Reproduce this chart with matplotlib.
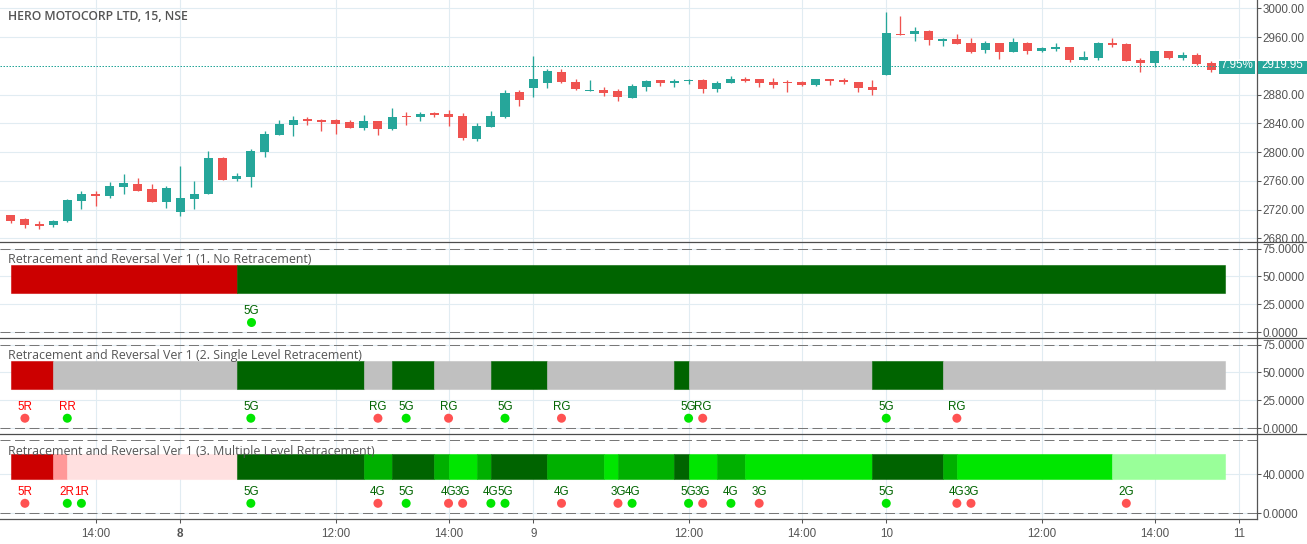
import matplotlib
matplotlib.use("Agg")
import matplotlib.pyplot as plt
from matplotlib.patches import Rectangle
from matplotlib.transforms import Bbox
import numpy as np

W, H = 1307, 544

# OHLC
opens = [2712.1, 2706.5, 2699.6, 2698.7, 2703.8, 2732.0, 2741.3, 2739.0, 2751.5, 2755.2, 2748.3, 2730.7, 2716.8,
         2734.8, 2741.8, 2791.4, 2762.2, 2765.5, 2800.2, 2823.9, 2837.8, 2845.7, 2844.3, 2844.3, 2841.5, 2833.6,
         2842.9, 2832.2, 2849.9, 2848.9, 2854.0, 2852.6, 2849.9, 2817.9, 2834.5, 2848.5, 2883.2, 2888.8, 2896.2,
         2911.1, 2897.2, 2884.6, 2886.0, 2884.6, 2874.9, 2890.2, 2899.9, 2895.8, 2898.6, 2899.9, 2887.4, 2895.8,
         2901.3, 2901.3, 2897.2, 2897.2, 2897.2, 2893.0, 2901.3, 2899.9, 2897.2, 2890.2, 2906.9, 2963.9, 2963.9,
         2968.1, 2954.2, 2957.0, 2951.4, 2941.7, 2951.4, 2938.9, 2951.4, 2940.3, 2943.1, 2945.9, 2927.8, 2930.6,
         2951.4, 2950.0, 2927.8, 2923.6, 2940.3, 2930.6, 2934.7, 2923.6]
highs = [2712.1, 2708.0, 2703.8, 2705.0, 2734.4, 2745.5, 2745.5, 2758.0, 2769.2, 2763.6, 2755.2, 2752.5, 2780.3,
         2759.4, 2801.2, 2792.8, 2770.6, 2804.0, 2829.0, 2844.3, 2849.9, 2848.5, 2845.7, 2845.7, 2844.3, 2851.3,
         2842.9, 2861.0, 2855.4, 2855.4, 2855.4, 2858.2, 2854.0, 2840.1, 2856.8, 2886.0, 2886.0, 2933.3, 2915.2,
         2915.2, 2901.3, 2900.0, 2890.2, 2887.4, 2894.4, 2899.9, 2899.9, 2901.3, 2901.3, 2901.3, 2898.6, 2905.5,
         2904.1, 2901.3, 2902.7, 2899.9, 2898.6, 2901.3, 2901.3, 2902.7, 2897.2, 2899.9, 2994.6, 2989.0, 2973.7,
         2969.5, 2958.4, 2963.9, 2958.4, 2954.2, 2951.4, 2958.4, 2952.8, 2945.9, 2951.4, 2945.9, 2940.3, 2952.8,
         2958.4, 2951.4, 2930.6, 2940.3, 2940.3, 2938.9, 2937.5, 2926.4]
lows = [2701.4, 2694.5, 2693.1, 2695.9, 2702.4, 2720.5, 2725.1, 2736.2, 2741.8, 2746.0, 2730.7, 2722.3, 2711.2,
        2720.5, 2741.8, 2760.8, 2759.4, 2751.5, 2793.3, 2823.9, 2822.5, 2837.8, 2829.9, 2825.2, 2833.6, 2830.8,
        2823.9, 2830.8, 2837.8, 2843.4, 2848.9, 2836.4, 2816.5, 2815.1, 2834.5, 2847.1, 2863.8, 2876.3, 2888.8,
        2895.8, 2886.0, 2884.6, 2877.7, 2870.7, 2874.9, 2884.6, 2891.6, 2890.2, 2894.4, 2881.9, 2883.2, 2895.8,
        2897.2, 2890.2, 2888.8, 2883.2, 2891.6, 2891.6, 2893.0, 2894.4, 2883.2, 2879.1, 2906.9, 2962.6, 2954.2,
        2948.6, 2947.2, 2950.0, 2937.5, 2937.5, 2929.2, 2938.9, 2936.1, 2938.9, 2940.3, 2925.0, 2927.8, 2927.8,
        2945.9, 2926.4, 2911.1, 2918.0, 2929.2, 2927.8, 2920.8, 2911.1]
closes = [2704.2, 2698.7, 2696.8, 2703.8, 2733.0, 2741.3, 2739.0, 2752.5, 2756.6, 2746.0, 2730.7, 2749.7, 2735.8,
          2741.3, 2791.4, 2760.8, 2766.4, 2801.2, 2824.8, 2838.7, 2844.3, 2843.4, 2842.0, 2839.2, 2833.6, 2842.9,
          2832.2, 2848.5, 2848.5, 2852.6, 2851.7, 2848.5, 2819.2, 2836.0, 2849.9, 2881.9, 2872.1, 2901.3, 2912.5,
          2897.2, 2887.4, 2885.6, 2881.9, 2876.3, 2891.6, 2898.6, 2895.8, 2898.6, 2899.9, 2887.4, 2895.8, 2901.3,
          2898.6, 2895.8, 2893.0, 2895.8, 2893.0, 2901.3, 2898.6, 2897.2, 2888.8, 2886.0, 2965.3, 2962.6, 2968.1,
          2955.6, 2957.0, 2950.0, 2938.9, 2951.4, 2938.9, 2952.8, 2940.3, 2944.5, 2945.9, 2927.8, 2931.9, 2951.4,
          2948.6, 2926.4, 2923.6, 2940.3, 2930.6, 2934.7, 2922.2, 2913.9]
last_price = 2919.95

price_ticks = [3000, 2960, 2920, 2880, 2840, 2800, 2760, 2720, 2680]
time_ticks = [6, 12, 23, 31, 37, 48, 56, 62, 73, 81, 87]
time_labels = ["14:00", "8", "12:00", "14:00", "9", "12:00", "14:00", "10", "12:00", "14:00", "11"]

# band segments: edges (in bars) and colour of each piece
DARK, MID, BRIGHT, LIGHT = "#006400", "#00b000", "#00e600", "#99ff99"
RED, PINK, PALE, GREY = "#cc0000", "#ff9999", "#ffe0e0", "#c0c0c0"
edges1 = [0, 16, 86]
colors1 = [RED, DARK]
edges2 = [0, 3, 16, 25, 27, 30, 34, 38, 47, 48, 61, 66, 86]
colors2 = [RED, GREY, DARK, GREY, DARK, GREY, DARK, GREY, DARK, GREY, DARK, GREY]
edges3 = [0, 3, 4, 16, 25, 27, 30, 31, 33, 34, 38, 42, 43, 47, 48, 50, 52, 61, 66, 67, 78, 86]
colors3 = [RED, PINK, PALE, DARK, MID, DARK, MID, BRIGHT, MID, DARK, MID, BRIGHT, MID, DARK,
           BRIGHT, MID, BRIGHT, DARK, MID, BRIGHT, LIGHT]

# signal dots: bar, label, label colour, dot colour
TXT_R, TXT_G, DOT_R, DOT_G = "#ff0000", "#006400", "#ff5252", "#00e600"
sig1_x = [17]
sig1_txt = ["5G"]
sig1_tc = [TXT_G]
sig1_dc = [DOT_G]
sig2_x = [1, 4, 17, 26, 28, 31, 35, 39, 48, 49, 62, 67]
sig2_txt = ["5R", "RR", "5G", "RG", "5G", "RG", "5G", "RG", "5G", "RG", "5G", "RG"]
sig2_tc = [TXT_R, TXT_R] + [TXT_G] * 10
sig2_dc = [DOT_R, DOT_G, DOT_G, DOT_R, DOT_G, DOT_R, DOT_G, DOT_R, DOT_G, DOT_R, DOT_G, DOT_R]
sig3_x = [1, 4, 5, 17, 26, 28, 31, 32, 34, 35, 39, 43, 44, 48, 49, 51, 53, 62, 67, 68, 79]
sig3_txt = ["5R", "2R", "1R", "5G", "4G", "5G", "4G", "3G", "4G", "5G", "4G", "3G", "4G", "5G", "3G", "4G", "3G",
            "5G", "4G", "3G", "2G"]
sig3_tc = [TXT_R] * 3 + [TXT_G] * 18
sig3_dc = [DOT_R, DOT_G, DOT_G, DOT_G, DOT_R, DOT_G, DOT_R, DOT_R, DOT_G, DOT_G, DOT_R, DOT_R, DOT_G, DOT_G, DOT_R,
           DOT_G, DOT_R, DOT_G, DOT_R, DOT_R, DOT_R]

GRID = "#e1ecf2"
AXIS = "#555555"
UP, DOWN = "#26a69a", "#ef5350"
FS = 11.6 * 0.72
SANS = ["Liberation Sans", "DejaVu Sans"]
TITLE = ["Open Sans", "DejaVu Sans"]
XLIM = (-0.765, 88.22)
RIGHT = 1256.5


def pane(top, bottom, ylim):
    ax = fig.add_axes([0, 1 - bottom / H, RIGHT / W, (bottom - top) / H])
    ax.set_xlim(*XLIM)
    ax.set_ylim(*ylim)
    ax.yaxis.tick_right()
    ax.set_xticks(time_ticks)
    ax.grid(True, color=GRID, lw=0.8)
    ax.set_axisbelow(True)
    ax.tick_params(axis="x", length=0, labelbottom=False)
    ax.tick_params(axis="y", length=2.9, width=0.75, color=AXIS, labelcolor=AXIS, labelsize=FS, pad=1.5)
    for s in ["top", "left", "bottom"]:
        ax.spines[s].set_visible(False)
    ax.spines["right"].set_color(AXIS)
    ax.spines["right"].set_linewidth(0.9)
    return ax


def indicator(ax, edges, colors, xs, txts, tcs, dcs, dot_y, txt_off, levels, ticks, labels, title, title_y):
    ax.set_yticks(ticks)
    ax.set_yticklabels(labels, family=SANS)
    for lev in levels:
        ax.axhline(lev, color="#787878", lw=0.72, dashes=(10, 4.5), zorder=1)
    edges = np.array(edges)
    for l, r, c in zip(edges[:-1], edges[1:], colors):
        ax.bar(l, 25, width=r - l, bottom=35, align="edge", color=c, edgecolor=matplotlib.colors.to_rgba(c, 0.55),
               lw=0.75, zorder=2)
    ax.scatter(xs, [dot_y] * len(xs), s=42, c=dcs, lw=0, zorder=3)
    for x, t, c in zip(xs, txts, tcs):
        ax.annotate(t, (x, dot_y), xytext=(0, txt_off), textcoords="offset points", ha="center", va="center",
                    color=c, fontsize=FS, family=SANS, zorder=4)
    fig.text(8 / W, 1 - title_y / H, title, color="#555555", fontsize=8.9, family=TITLE, va="center", zorder=10)


fig = plt.figure(figsize=(W / 100, H / 100), dpi=100, facecolor="white")

# price pane
ax0 = pane(0, 242.3, (2674.4, 3011.5))
ax0.set_yticks(price_ticks)
ax0.set_yticklabels(["%.2f" % p for p in price_ticks], family=SANS)
for lab, p in zip(ax0.get_yticklabels(), price_ticks):
    if p == 2920:
        lab.set_visible(False)
    lab.set_clip_on(True)
    lab.set_clip_box(Bbox([[0, H - 242], [W, H]]))
ax0.get_ygridlines()[price_ticks.index(2920)].set_visible(False)

x = np.arange(len(opens))
o, h, l, c = map(np.array, (opens, highs, lows, closes))
col = [UP if cc >= oo else DOWN for oo, cc in zip(opens, closes)]
ax0.vlines(x, l, h, colors=col, lw=0.95, zorder=3)
ax0.bar(x, np.maximum(np.abs(c - o), 1.2), bottom=np.minimum(o, c), width=0.64, color=col, lw=0, zorder=3)
ax0.plot([XLIM[0], 86.5], [last_price, last_price], color=UP, lw=0.72, dashes=(1.5, 1.5), zorder=4)
fig.text(8 / W, 1 - 16.5 / H, "HERO MOTOCORP LTD, 15, NSE", color="#555555", fontsize=8.8, family=TITLE,
         weight="semibold", va="center")

# last price tags
fig.add_artist(Rectangle((1219 / W, 1 - 74 / H), 36 / W, 13.5 / H, transform=fig.transFigure, color=UP, lw=0))
fig.add_artist(Rectangle((1257.5 / W, 1 - 74 / H), 49.5 / W, 13.5 / H, transform=fig.transFigure, color=UP, lw=0))
fig.text(1237 / W, 1 - 65.5 / H, "7.95%", color="white", fontsize=FS, family=SANS, ha="center", va="center")
fig.text(1282 / W, 1 - 65.5 / H, "%.2f" % last_price, color="white", fontsize=FS, family=SANS, ha="center",
         va="center")

# indicator panes
ax1 = pane(242.3, 338.3, (-5.4, 80.6))
indicator(ax1, edges1, colors1, sig1_x, sig1_txt, sig1_tc, sig1_dc, 9, 8.35, [0, 75], [75, 50, 25, 0],
          ["75.0000", "50.0000", "25.0000", "0.0000"], "Retracement and Reversal Ver 1 (1. No Retracement)", 259.3)
ax2 = pane(338.3, 434.3, (-5.4, 80.6))
indicator(ax2, edges2, colors2, sig2_x, sig2_txt, sig2_tc, sig2_dc, 9, 8.35, [0, 75], [75, 50, 25, 0],
          ["75.0000", "50.0000", "25.0000", "0.0000"], "Retracement and Reversal Ver 1 (2. Single Level Retracement)",
          355.3)
ax3 = pane(434.3, 519, (-5.8, 80.6))
indicator(ax3, edges3, colors3, sig3_x, sig3_txt, sig3_tc, sig3_dc, 10.2, 8.35, [0, 75], [40, 0],
          ["40.0000", "0.0000"], "Retracement and Reversal Ver 1 (3. Multiple Level Retracement)", 451.3)

ax3.tick_params(axis="x", length=2.9, width=0.75, color=AXIS, labelbottom=True, labelcolor=AXIS, labelsize=FS, pad=3.5)
ax3.set_xticklabels(time_labels, family=SANS)
ax3.get_xticklabels()[1].set_weight("bold")
ax3.spines["bottom"].set_visible(True)
ax3.spines["bottom"].set_color(AXIS)
ax3.spines["bottom"].set_linewidth(0.9)

# pane separators run through to the right edge
for y in [242.3, 338.3, 434.3]:
    fig.add_artist(plt.Line2D([0, 1], [1 - y / H, 1 - y / H], color="#4d4d4d", lw=0.9, transform=fig.transFigure))

fig.savefig("out.png", dpi=100)
